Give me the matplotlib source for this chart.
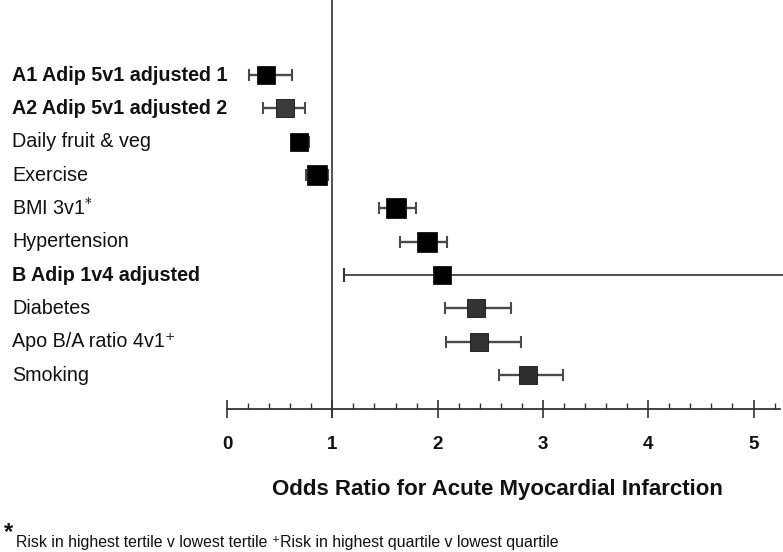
import matplotlib; matplotlib.use("Agg")
import matplotlib.pyplot as plt
import numpy as np
from matplotlib import font_manager

# ---- data ----
labels = ["A1 Adip 5v1 adjusted 1", "A2 Adip 5v1 adjusted 2", "Daily fruit & veg", "Exercise",
          "BMI 3v1$^{*}$", "Hypertension", "B Adip 1v4 adjusted", "Diabetes",
          "Apo B/A ratio 4v1\u207a", "Smoking"]
odds  = [0.37, 0.55, 0.68, 0.85, 1.60, 1.90, 2.04, 2.36, 2.39, 2.86]
lower = [0.21, 0.34, 0.63, 0.75, 1.44, 1.64, 1.11, 2.07, 2.08, 2.58]
upper = [0.62, 0.74, 0.78, 0.96, 1.79, 2.09, 6.00, 2.70, 2.79, 3.19]
bold_rows = [0, 1, 6]
major_ticks = [0, 1, 2, 3, 4, 5]

# ---- styles ----
BOX = ["#000000", "#3a3a3a", "#000000", "#000000", "#000000", "#000000", "#000000",
       "#333333", "#333333", "#2e2e2e"]
MS = [13.5, 13.0, 13.0, 14.8, 14.2, 14.0, 13.5, 12.5, 12.5, 12.5]
LINE = "#4a4a4a"

avail = {f.name for f in font_manager.fontManager.ttflist}
NARROW = "Liberation Sans Narrow" if "Liberation Sans Narrow" in avail else "Liberation Sans"
FAM = ["Liberation Sans", "DejaVu Sans"]
NFAM = [NARROW, "Liberation Sans", "DejaVu Sans"]

fig = plt.figure(figsize=(7.83, 5.52), dpi=100)
ax = fig.add_axes([0, 0, 1, 1])
ax.set_xlim(-2.156, 5.28)
ax.set_ylim(14.31, -2.25)   # row units, row 0 at top
rows = list(range(len(labels)))

for i in rows:
    big = i == 6
    ax.errorbar(odds[i], i, xerr=[[odds[i] - lower[i]], [upper[i] - odds[i]]], fmt="none",
                ecolor="#333333" if big else LINE, elinewidth=1.2 if big else 1.7,
                capsize=4 if not big else 5, capthick=1.5, zorder=2)
    ax.plot(odds[i], i, "s", ms=MS[i], color=BOX[i], mec="#111111", mew=0.6, zorder=3)
    ax.text(0.0155, i, labels[i], transform=ax.get_yaxis_transform(), ha="left", va="center",
            fontsize=14.2, family=FAM, fontweight="bold" if i in bold_rows else "normal",
            color="#111111")

# reference line at OR = 1
ax.vlines(1, -2.3, 10.29, color="#222222", lw=1.1, zorder=1)

# axis
for s in ("top", "right", "left"):
    ax.spines[s].set_visible(False)
ax.spines["bottom"].set_position(("data", 10.02))
ax.spines["bottom"].set_bounds(0, 5.25)
ax.spines["bottom"].set_color("#333333")
ax.spines["bottom"].set_linewidth(1.3)
ax.set_yticks([])
minor = [round(v, 1) for v in np.arange(0, 5.21, 0.2) if abs(v - round(v)) > 1e-6]
ax.set_xticks(major_ticks)
ax.set_xticks(minor, minor=True)
ax.tick_params(axis="x", which="major", direction="inout", length=13, width=1.2,
               color="#333333", pad=13)
ax.tick_params(axis="x", which="minor", direction="in", length=4.5, width=1.0, color="#333333")
for t in ax.get_xticklabels():
    t.set_fontfamily(NFAM); t.set_fontweight("bold"); t.set_fontsize(13.5); t.set_color("#111111")

ax.set_xlabel("Odds Ratio for Acute Myocardial Infarction", fontsize=16, fontweight="bold",
              family=NFAM, color="#111111")
ax.xaxis.set_label_coords(0.635, 0.133)

fig.text(0.005, 0.023, "*", fontsize=17, fontweight="bold", family=FAM, color="#111111",
         va="baseline")
fig.text(0.021, 0.009, "Risk in highest tertile v lowest tertile \u207aRisk in highest quartile v lowest quartile",
         fontsize=11.4, family=NFAM, color="#111111", va="baseline")

fig.savefig("out.png", dpi=100)
